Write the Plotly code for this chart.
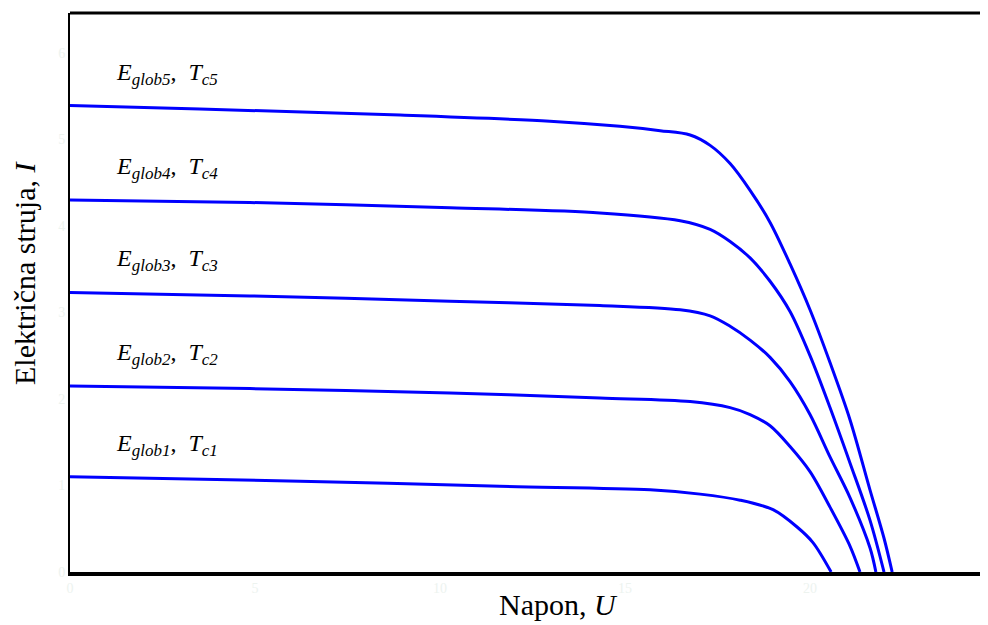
import plotly.graph_objects as go

# I-V curves (U in V, I in A)
u1 = [0, 6.22, 11.62, 15.68, 17.03, 18.11, 19.0, 19.65, 20.08, 20.57]
i1 = [1.10, 1.05, 0.99, 0.95, 0.90, 0.83, 0.72, 0.52, 0.34, 0.0]

u2 = [0, 4.86, 10.27, 14.32, 16.76, 17.84, 18.38, 18.92, 19.46, 20.0, 20.54, 21.08, 21.35]
i2 = [2.15, 2.12, 2.07, 2.01, 1.97, 1.90, 1.82, 1.69, 1.45, 1.16, 0.75, 0.30, 0.0]

u3 = [0, 4.86, 10.27, 14.32, 16.49, 17.30, 17.84, 18.38, 18.92, 19.46, 20.0, 20.54, 21.08, 21.62, 21.78]
i3 = [3.23, 3.19, 3.13, 3.08, 3.03, 2.96, 2.84, 2.68, 2.48, 2.20, 1.82, 1.33, 0.86, 0.28, 0.0]

u4 = [0, 4.86, 10.27, 14.32, 16.49, 17.30, 17.84, 18.38, 18.92, 19.46, 20.0, 20.54, 21.08, 21.62, 22.0]
i4 = [4.30, 4.27, 4.21, 4.15, 4.06, 3.96, 3.82, 3.63, 3.36, 3.01, 2.50, 1.90, 1.26, 0.60, 0.0]

u5 = [0, 3.51, 8.92, 12.97, 14.86, 15.95, 16.76, 17.30, 17.84, 18.38, 18.92, 19.46,
      20.0, 20.54, 21.08, 21.62, 22.0, 22.22]
i5 = [5.39, 5.35, 5.28, 5.21, 5.15, 5.10, 5.05, 4.93, 4.72, 4.41, 4.04, 3.56,
      3.03, 2.42, 1.76, 0.95, 0.39, 0.0]

labels = ["1", "2", "3", "4", "5"]
label_y = [1.47, 2.52, 3.60, 4.67, 5.76]

x_ticks = [0, 5, 10, 15, 20, 25]
y_ticks = [0, 1, 2, 3, 4, 5, 6]

serif = "Liberation Serif"
faint = "#edf3ef"

fig = go.Figure()
for u, i in [(u1, i1), (u2, i2), (u3, i3), (u4, i4), (u5, i5)]:
    fig.add_trace(go.Scatter(x=u, y=i, mode="lines",
                             line=dict(color="#0000ff", width=3, shape="spline", smoothing=0.9),
                             showlegend=False, hoverinfo="skip"))

# curve labels
sub = "<sub><span style='font-size:17px'><i>%s</i></span></sub>"
for k, yy in zip(labels, label_y):
    fig.add_annotation(x=1.2, y=yy, xanchor="left", yanchor="middle", showarrow=False,
                       text="<i>E</i>" + sub % ("glob" + k) + ",&nbsp; <i>T</i>" + sub % ("c" + k),
                       font=dict(family=serif, size=24, color="black"))

# axis titles
fig.add_annotation(xref="paper", yref="paper", x=0.532, y=-0.059, xanchor="center", yanchor="middle",
                   showarrow=False, text="Napon, <i>U</i>", font=dict(family=serif, size=30, color="black"))
fig.add_annotation(xref="paper", yref="paper", x=-0.049, y=0.535, xanchor="center", yanchor="middle",
                   showarrow=False, textangle=-90, borderpad=0,
                   text="Električna struja, <i>I</i>", font=dict(family=serif, size=30, color="black"))

# top border
fig.add_shape(type="line", xref="paper", yref="paper", x0=0, x1=1, y0=1, y1=1,
              line=dict(color="black", width=3))

# page body adds 8px, so the figure is 8px smaller
fig.update_layout(
    width=980, height=617,
    margin=dict(l=62, r=0, t=5, b=53),
    plot_bgcolor="white", paper_bgcolor="white",
    xaxis=dict(range=[0, 24.81], tickvals=x_ticks, showgrid=False, zeroline=False, automargin=False,
               showline=True, linecolor="black", linewidth=4, ticks="",
               tickfont=dict(family=serif, size=14, color=faint)),
    yaxis=dict(range=[0, 6.46], tickvals=y_ticks, showgrid=False, zeroline=False, automargin=False,
               showline=True, linecolor="black", linewidth=2, ticks="",
               tickfont=dict(family=serif, size=14, color=faint)),
)

fig.write_html("out.html")
